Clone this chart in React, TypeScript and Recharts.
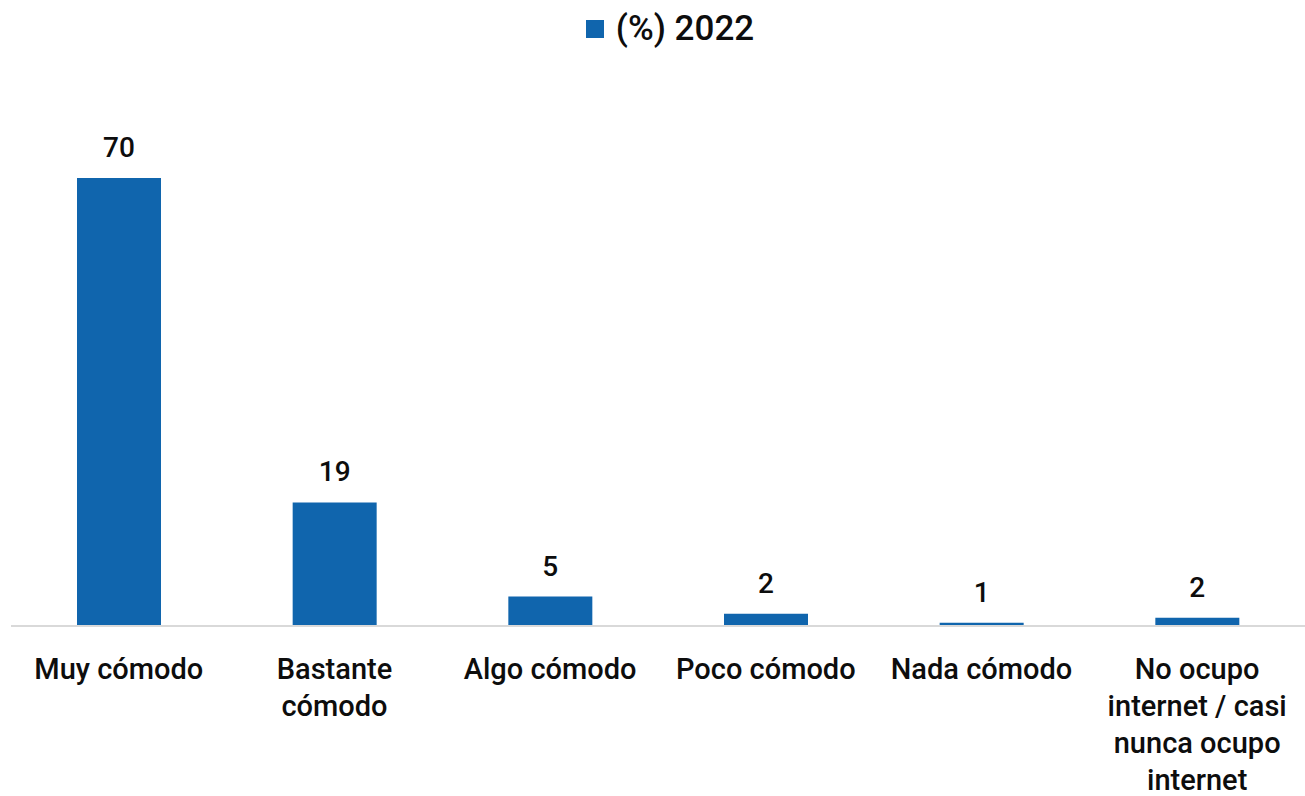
import { BarChart, Bar, XAxis, YAxis, Legend, LabelList } from 'recharts';

const categories = [
    'Muy cómodo',
    'Bastante cómodo',
    'Algo cómodo',
    'Poco cómodo',
    'Nada cómodo',
    'No ocupo internet / casi nunca ocupo internet',
];
// bar heights
const share2022 = [70, 19.3, 4.6, 1.9, 0.5, 1.3];
// numbers printed above the bars
const shownLabels = ['70', '19', '5', '2', '1', '2'];
const seriesName = '(%) 2022';

const BAR_COLOR = '#1065ad';
const FONT = 'Roboto, "Noto Sans", sans-serif';

const data = categories.map((name, i) => ({
    name,
    value: share2022[i],
    label: shownLabels[i],
}));

let ctx: CanvasRenderingContext2D | null = null;
function textWidth(s: string, size: number) {
    if (!ctx) ctx = document.createElement('canvas').getContext('2d');
    if (!ctx) return s.length * size * 0.55;
    ctx.font = `500 ${size}px Roboto`;
    return ctx.measureText(s).width;
}

function wrap(label: string, maxW: number, size: number) {
    const words = label.split(' ');
    const lines: string[] = [];
    let cur = '';
    for (const w of words) {
        const next = cur ? cur + ' ' + w : w;
        if (cur && textWidth(next, size) > maxW) {
            lines.push(cur);
            cur = w;
        } else cur = next;
    }
    if (cur) lines.push(cur);
    return lines;
}

function CategoryTick({ x, y, payload }: any) {
    const lines = wrap(payload?.value ?? '', 205, 29);
    return (
        <text x={x} y={y} textAnchor="middle" fill="#0d0d0d" fontSize={29} fontWeight={500} fontFamily={FONT}>
            {lines.map((l, i) => (
                <tspan key={i} x={x} dy={i === 0 ? 45 : 37}>{l}</tspan>
            ))}
        </text>
    );
}

function TopLegend() {
    return (
        <div style={{ height: 56, display: 'flex', justifyContent: 'center', alignItems: 'flex-start' }}>
            <div style={{ display: 'flex', alignItems: 'center', marginTop: 8, marginLeft: 24 }}>
                <span style={{ width: 18, height: 18, background: BAR_COLOR, display: 'inline-block', marginRight: 12 }} />
                <span style={{ fontFamily: FONT, fontSize: 35, fontWeight: 500, color: '#0d0d0d' }}>{seriesName}</span>
            </div>
        </div>
    );
}

export default function App() {
    return (
        <div style={{ position: 'absolute', left: 0, top: 0, width: 1305, height: 796, background: '#fff' }}>
            <BarChart
                width={1305}
                height={796}
                data={data}
                margin={{ top: 122, right: 0, bottom: 0, left: 11 }}
            >
                <Legend verticalAlign="top" content={<TopLegend />} wrapperStyle={{ top: 0 }} />
                <XAxis
                    dataKey="name"
                    interval={0}
                    height={170}
                    tickLine={false}
                    axisLine={{ stroke: '#d9d9d9', strokeWidth: 2 }}
                    tick={<CategoryTick />}
                />
                <YAxis hide domain={[0, 70]} />
                <Bar dataKey="value" name={seriesName} fill={BAR_COLOR} barSize={84} isAnimationActive={false}>
                    <LabelList
                        dataKey="label"
                        position="top"
                        offset={21}
                        fill="#0d0d0d"
                        fontSize={28}
                        fontWeight={500}
                        fontFamily={FONT}
                    />
                </Bar>
            </BarChart>
        </div>
    );
}
